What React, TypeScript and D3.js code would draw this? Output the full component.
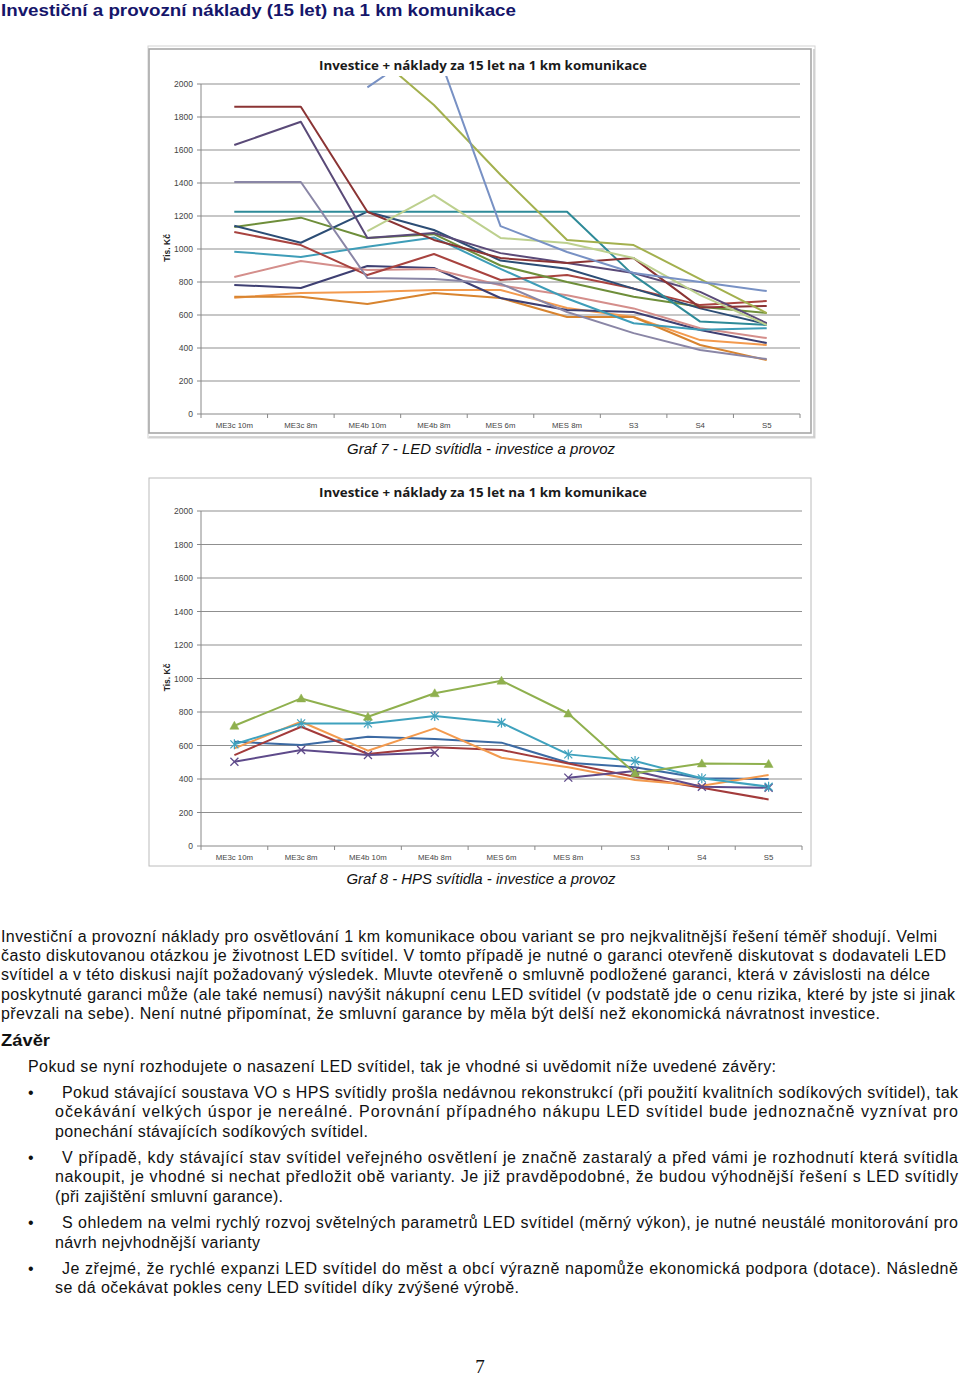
import React from "react";
import * as d3 from "d3";

const categories = ["ME3c 10m", "ME3c 8m", "ME4b 10m", "ME4b 8m", "MES 6m", "MES 8m", "S3", "S4", "S5"];
const yTicks = [0, 200, 400, 600, 800, 1000, 1200, 1400, 1600, 1800, 2000];
const chartTitle = "Investice + náklady za 15 let na 1 km komunikace";
const yAxisTitle = "Tis. Kč";

// Graf 7 – LED svítidla
const ledDarkRed = [1862, 1862, 1226, 1055, 945, 915, 945, 645, 655];
const ledDarkPurple = [1630, 1771, 1067, 1097, 975, 915, 855, 740, 550];
const ledGreyPurple = [1406, 1406, 824, 818, 790, 618, 490, 388, 333];
const ledTeal = [1226, 1226, 1226, 1226, 1226, 1226, 840, 560, 540];
const ledNavy = [1141, 1038, 1226, 1115, 930, 880, 760, 640, 545];
const ledGreen = [1133, 1190, 1067, 1090, 900, 800, 710, 650, 612];
const ledRed = [1103, 1024, 842, 970, 812, 842, 760, 660, 685];
const ledAqua = [984, 952, 1014, 1070, 880, 700, 550, 510, 520];
const ledPink = [830, 927, 873, 879, 780, 720, 640, 520, 460];
const ledDarkNavy = [782, 764, 897, 885, 703, 630, 618, 509, 430];
const ledOrange = [705, 733, 739, 752, 752, 642, 588, 448, 418];
const ledDarkOrange = [711, 711, 667, 733, 703, 588, 588, 418, 327];
const ledOlive = [null, null, 2218, 1873, 1450, 1055, 1024, 818, 612];
const ledLime = [null, null, 1109, 1327, 1067, 1036, 945, 720, 540];
const ledSteel = [null, null, 1980, 2254, 1139, 982, 855, 800, 745];

// Graf 8 – HPS svítidla
const hpsGreen = [718, 881, 772, 912, 987, 791, 434, 493, 490];
const hpsAqua = [607, 732, 732, 776, 736, 547, 507, 404, 354];
const hpsBlue = [622, 603, 652, 639, 617, 497, 470, 404, 400];
const hpsOrange = [583, 742, 569, 702, 527, 470, 394, 360, 424];
const hpsRed = [543, 712, 549, 589, 573, 493, 414, 348, 278];
const hpsPurple = [503, 573, 543, 557, null, 408, 448, 354, 348];

type Series = { values: (number | null)[]; color: string; marker?: string; width?: number };

const ledSeries: Series[] = [
  { values: ledOrange, color: "#F39A4E" },
  { values: ledDarkOrange, color: "#D8842F" },
  { values: ledDarkNavy, color: "#3E3F72" },
  { values: ledPink, color: "#D48E8B" },
  { values: ledAqua, color: "#3E9DB8" },
  { values: ledRed, color: "#A8433F" },
  { values: ledGreen, color: "#6E8E3A" },
  { values: ledNavy, color: "#2C4D75" },
  { values: ledTeal, color: "#2E8A98" },
  { values: ledGreyPurple, color: "#8A86A6" },
  { values: ledDarkPurple, color: "#5A4A78" },
  { values: ledDarkRed, color: "#8B3434" },
  { values: ledLime, color: "#BDD08E" },
  { values: ledOlive, color: "#A3B04E" },
  { values: ledSteel, color: "#7891C4" },
];

const hpsSeries: Series[] = [
  { values: hpsBlue, color: "#3C6AA3" },
  { values: hpsRed, color: "#A33B3B" },
  { values: hpsOrange, color: "#F39A4E" },
  { values: hpsPurple, color: "#5E4A8A", marker: "x" },
  { values: hpsAqua, color: "#3FA2BE", marker: "star" },
  { values: hpsGreen, color: "#8FB04E", marker: "tri" },
];

type ChartProps = {
  id: string;
  left: number;
  right: number;
  top: number;
  bottom: number;
  frame: [number, number, number, number];
  shadow: boolean;
  titleY: number;
  series: Series[];
};

function Marker({ kind, x, y, color }: { kind: string; x: number; y: number; color: string }) {
  if (kind === "tri") {
    const p = `${x},${y - 4.5} ${x + 4.5},${y + 3.5} ${x - 4.5},${y + 3.5}`;
    return <polygon points={p} fill={color} stroke={color} strokeWidth={0.5} />;
  }
  if (kind === "x") {
    return (
      <g stroke={color} strokeWidth={1.3}>
        <line x1={x - 4} y1={y - 4} x2={x + 4} y2={y + 4} />
        <line x1={x - 4} y1={y + 4} x2={x + 4} y2={y - 4} />
      </g>
    );
  }
  if (kind === "star") {
    return (
      <g stroke={color} strokeWidth={1.2}>
        <line x1={x - 4} y1={y - 4} x2={x + 4} y2={y + 4} />
        <line x1={x - 4} y1={y + 4} x2={x + 4} y2={y - 4} />
        <line x1={x} y1={y - 5} x2={x} y2={y + 5} />
      </g>
    );
  }
  return null;
}

function Chart({ id, left, right, top, bottom, frame, shadow, titleY, series }: ChartProps) {
  const x = d3.scaleBand<string>().domain(categories).range([left, right]).padding(0);
  const bw = x.bandwidth();
  const cx = (c: string) => (x(c) as number) + bw / 2;
  const y = d3.scaleLinear().domain([0, 2000]).range([bottom, top]);
  const line = d3
    .line<number | null>()
    .defined((d) => d != null)
    .x((_, i) => cx(categories[i]))
    .y((d) => y(d as number));
  const [fx0, fy0, fx1, fy1] = frame;
  const midX = (fx0 + fx1) / 2 + 3;
  return (
    <g>
      <defs>
        <clipPath id={id}>
          <rect x={left} y={top - 8} width={right - left} height={bottom - top + 8} />
        </clipPath>
      </defs>
      {shadow && (
        <rect x={fx0 - 1} y={fy0 - 3} width={fx1 - fx0 + 5} height={fy1 - fy0 + 8} fill="none" stroke="#d4d4d4" strokeWidth={1} />
      )}
      <rect x={fx0} y={fy0} width={fx1 - fx0} height={fy1 - fy0} fill="#fff" stroke={shadow ? "#a8a8a8" : "#bcbcbc"} strokeWidth={shadow ? 1.6 : 1} />
      {shadow && (
        <g stroke="#c8c8c8" strokeWidth={1.5}>
          <line x1={fx0} y1={fy1 + 4} x2={fx1 + 4} y2={fy1 + 4} />
          <line x1={fx1 + 3} y1={fy0} x2={fx1 + 3} y2={fy1 + 4} />
        </g>
      )}
      <text x={midX} y={titleY + 4.5} textAnchor="middle" fontFamily="'Open Sans', 'Liberation Sans', sans-serif" fontWeight="bold" fontSize={12.5} textLength={328} lengthAdjust="spacingAndGlyphs" fill="#1a1a1a">
        {chartTitle}
      </text>
      {yTicks.filter((t) => t > 0).map((t) => (
        <line key={t} x1={left} x2={right} y1={y(t)} y2={y(t)} stroke="#8f8f8f" strokeWidth={1} />
      ))}
      <line x1={left} x2={left} y1={y(2000)} y2={y(0)} stroke="#888" strokeWidth={1} />
      <line x1={left} x2={right} y1={y(0)} y2={y(0)} stroke="#888" strokeWidth={1} />
      {yTicks.map((t) => (
        <g key={t}>
          <line x1={left - 4} x2={left} y1={y(t)} y2={y(t)} stroke="#888" />
          <text x={left - 8} y={y(t) + 3} textAnchor="end" fontFamily="'Liberation Sans', Arial, sans-serif" fontSize={8.5} fill="#444">
            {t}
          </text>
        </g>
      ))}
      {d3.range(categories.length + 1).map((i) => (
        <line key={i} x1={left + i * bw} x2={left + i * bw} y1={y(0)} y2={y(0) + 4} stroke="#888" />
      ))}
      {categories.map((c) => (
        <text key={c} x={cx(c)} y={y(0) + 14} textAnchor="middle" fontFamily="'Liberation Sans', Arial, sans-serif" fontSize={7.8} fill="#444">
          {c}
        </text>
      ))}
      <text transform={`translate(${fx0 + 21},${(top + bottom) / 2 - 1}) rotate(-90)`} textAnchor="middle" fontFamily="'Liberation Sans', Arial, sans-serif" fontWeight="bold" fontSize={8.5} fill="#222">
        {yAxisTitle}
      </text>
      <g clipPath={`url(#${id})`}>
        {series.map((s, i) => (
          <path key={i} d={line(s.values) || ""} fill="none" stroke={s.color} strokeWidth={s.width ?? 2} strokeLinejoin="round" />
        ))}
        {series.map((s, i) =>
          s.marker
            ? s.values.map((v, j) =>
                v == null ? null : <Marker key={`${i}-${j}`} kind={s.marker as string} x={cx(categories[j])} y={y(v)} color={s.color} />
              )
            : null
        )}
      </g>
    </g>
  );
}

const bodyFont = "'Liberation Sans', Arial, sans-serif";

type Line = { t: string; x: number; y: number; w: number };

const paragraphLines: Line[] = [
  { t: "Investiční a provozní náklady pro osvětlování 1 km komunikace obou variant se pro nejkvalitnější řešení téměř shodují. Velmi", x: 1, y: 936, w: 936 },
  { t: "často diskutovanou otázkou je životnost LED svítidel. V tomto případě je nutné o garanci otevřeně diskutovat s dodavateli LED", x: 1, y: 955, w: 945 },
  { t: "svítidel a v této diskusi najít požadovaný výsledek. Mluvte otevřeně o smluvně podložené garanci, která v závislosti na délce", x: 1, y: 974, w: 929 },
  { t: "poskytnuté garanci může (ale také nemusí) navýšit nákupní cenu LED svítidel (v podstatě jde o cenu rizika, které by jste si jinak", x: 1, y: 994, w: 954 },
  { t: "převzali na sebe). Není nutné připomínat, že smluvní garance by měla být delší než ekonomická návratnost investice.", x: 1, y: 1013, w: 879 },
  { t: "Pokud se nyní rozhodujete o nasazení LED svítidel, tak je vhodné si uvědomit níže uvedené závěry:", x: 28, y: 1066, w: 748 },
  { t: "Pokud stávající soustava VO s HPS svítidly prošla nedávnou rekonstrukcí (při použití kvalitních sodíkových svítidel), tak", x: 62, y: 1092, w: 896 },
  { t: "očekávání velkých úspor je nereálné. Porovnání případného nákupu LED svítidel bude jednoznačně vyznívat pro", x: 55, y: 1111, w: 903 },
  { t: "ponechání stávajících sodíkových svítidel.", x: 55, y: 1131, w: 313 },
  { t: "V případě, kdy stávající stav svítidel veřejného osvětlení je značně zastaralý a před vámi je rozhodnutí která svítidla", x: 62, y: 1157, w: 896 },
  { t: "nakoupit, je vhodné si nechat předložit obě varianty. Je již pravděpodobné, že budou výhodnější řešení s LED svítidly", x: 55, y: 1176, w: 903 },
  { t: "(při zajištění smluvní garance).", x: 55, y: 1196, w: 228 },
  { t: "S ohledem na velmi rychlý rozvoj světelných parametrů  LED svítidel (měrný výkon), je nutné neustálé monitorování pro", x: 62, y: 1222, w: 896 },
  { t: "návrh nejvhodnější varianty", x: 55, y: 1242, w: 205 },
  { t: "Je zřejmé, že rychlé expanzi LED svítidel do měst a obcí výrazně napomůže ekonomická podpora (dotace). Následně", x: 62, y: 1268, w: 896 },
  { t: "se dá očekávat pokles ceny LED svítidel díky zvýšené výrobě.", x: 55, y: 1287, w: 464 },
];

const bulletYs = [1092, 1157, 1222, 1268];

export default function App() {
  return (
    <svg width={960} height={1379} viewBox="0 0 960 1379" style={{ position: "absolute", left: 0, top: 0, background: "#fff" }}>
      <rect x={0} y={0} width={960} height={1379} fill="#fff" />
      <text x={1} y={16} fontFamily={bodyFont} fontWeight="bold" fontSize={17} fill="#15156a" textLength={515} lengthAdjust="spacingAndGlyphs">
        Investiční a provozní náklady (15 let) na 1 km komunikace
      </text>

      <Chart id="c1" left={201} right={800} top={84} bottom={414} frame={[149, 49, 811, 433]} shadow={true} titleY={65} series={ledSeries} />
      <text x={481} y={454} textAnchor="middle" fontFamily={bodyFont} fontStyle="italic" fontSize={15} fill="#111" textLength={268} lengthAdjust="spacingAndGlyphs">
        Graf 7 - LED svítidla - investice a provoz
      </text>

      <Chart id="c2" left={201} right={802} top={511} bottom={846} frame={[149, 478, 811, 866]} shadow={false} titleY={492} series={hpsSeries} />
      <text x={481} y={884} textAnchor="middle" fontFamily={bodyFont} fontStyle="italic" fontSize={15} fill="#111" textLength={269} lengthAdjust="spacingAndGlyphs">
        Graf 8 - HPS svítidla - investice a provoz
      </text>

      {paragraphLines.map((l, i) => (
        <text key={i} x={l.x} y={l.y + 6} fontFamily={bodyFont} fontSize={16} fill="#111" textLength={l.w} lengthAdjust="spacing">
          {l.t}
        </text>
      ))}
      <text x={1} y={1046} fontFamily={bodyFont} fontWeight="bold" fontSize={17} fill="#111" textLength={49} lengthAdjust="spacingAndGlyphs">
        Závěr
      </text>
      {bulletYs.map((by) => (
        <text key={by} x={28} y={by + 6} fontFamily={bodyFont} fontSize={16} fill="#111">
          •
        </text>
      ))}
      <text x={480} y={1373} textAnchor="middle" fontFamily="'Liberation Serif', 'Times New Roman', serif" fontSize={19} fill="#111">
        7
      </text>
    </svg>
  );
}
